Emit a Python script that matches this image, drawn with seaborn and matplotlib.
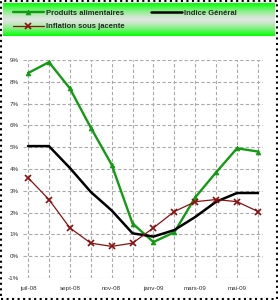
import matplotlib
matplotlib.use("Agg")
import matplotlib.pyplot as plt
import seaborn as sns
import numpy as np
import pandas as pd
from matplotlib.patches import Rectangle

# data
periods = ["juil-08", "août-08", "sept-08", "oct-08", "nov-08", "déc-08",
           "janv-09", "févr-09", "mars-09", "avr-09", "mai-09", "juin-09"]
alimentaires = [8.4, 8.9, 7.7, 5.9, 4.2, 1.5, 0.65, 1.1, 2.7, 3.85, 4.95, 4.8]
indice_general = [5.05, 5.05, 4.05, 2.95, 2.1, 1.05, 0.9, 1.2, 1.8, 2.5, 2.9, 2.9]
sous_jacente = [3.6, 2.6, 1.3, 0.6, 0.45, 0.6, 1.3, 2.05, 2.5, 2.6, 2.5, 2.05]
y_ticks = list(range(-1, 10))

sns.set_style("white")
plt.rcParams['font.family'] = ['Liberation Sans', 'DejaVu Sans']

df = pd.DataFrame({"x": np.arange(len(periods)),
                   "alim": alimentaires,
                   "gen": indice_general,
                   "sj": sous_jacente})

fig = plt.figure(figsize=(2.78, 3.0), dpi=100)
ax = fig.add_axes([22.8 / 278, 22 / 300, 240.4 / 278, 218 / 300])

green = "#129a12"
red = "#8b1010"
sns.lineplot(data=df, x="x", y="alim", ax=ax, color=green, lw=1.7,
             marker="^", markersize=3.5, markeredgewidth=0.5,
             markeredgecolor=green, label="Produits alimentaires")
sns.lineplot(data=df, x="x", y="gen", ax=ax, color="black", lw=1.8,
             label="Indice Général")
sns.lineplot(data=df, x="x", y="sj", ax=ax, color=red, lw=0.9,
             marker="x", markersize=4, markeredgewidth=1.2,
             markeredgecolor=red, label="Inflation sous jacente")
for line in ax.get_lines():
    line.set_clip_on(False)

ax.set_xlim(-0.25, len(periods) - 0.75)
ax.set_ylim(-1, 9)
ax.set_xticks(np.arange(len(periods)))
ax.set_xticklabels([p if i % 2 == 0 else "" for i, p in enumerate(periods)])
ax.set_yticks(y_ticks)
ax.set_yticklabels([f"{v}%" for v in y_ticks])
ax.tick_params(axis="both", labelsize=4.5, colors="#333333", length=0)
ax.tick_params(axis="x", pad=6)
ax.tick_params(axis="y", pad=3)
ax.set_xlabel("")
ax.set_ylabel("")
ax.grid(True, color="#aaaaaa", ls=(0, (3, 2)), lw=0.8)
for s in ax.spines.values():
    s.set_visible(False)

# legend band with green gradient
lax = fig.add_axes([3 / 278, 1 - 36 / 300, 272 / 278, 33 / 300])
grad = np.abs(np.linspace(-1, 1, 64)) ** 1.4
edge = np.array([0.0, 1.0, 0.0])
mid = np.array([0.88, 0.9, 0.88])
img = mid[None, :] * (1 - grad[:, None]) + edge[None, :] * grad[:, None]
lax.imshow(img[:, None, :], aspect="auto", extent=[0, 1, 0, 1])
lax.set_axis_off()

handles, labels = ax.get_legend_handles_labels()
ax.get_legend().remove()
order = [0, 2, 1]
leg = fig.legend([handles[i] for i in order], [labels[i] for i in order],
                 loc="center", bbox_to_anchor=(0.45, 1 - 20 / 300), ncol=2,
                 frameon=False, prop={"size": 5.5, "weight": "bold"},
                 handlelength=4, columnspacing=3.5, labelspacing=0.8,
                 handletextpad=0.3)

fig.patches.append(Rectangle((0.004, 0.004), 0.992, 0.992, transform=fig.transFigure,
                             fill=False, ec="black", lw=1.5, ls=":"))

fig.savefig("out.png", dpi=100)
